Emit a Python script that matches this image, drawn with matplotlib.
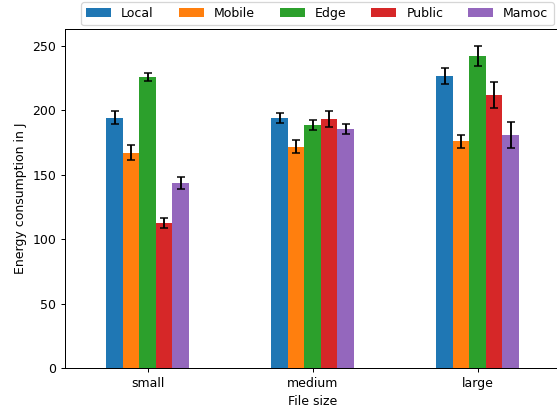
import matplotlib
matplotlib.use("Agg")
import matplotlib.pyplot as plt
import numpy as np

categories = ["small", "medium", "large"]
series = ["Local", "Mobile", "Edge", "Public", "Mamoc"]
local = [194, 194, 226.5]
mobile = [167, 171.5, 176]
edge = [225.5, 188.5, 242]
public = [112.5, 193, 211.5]
mamoc = [143.5, 185.5, 181]
local_err = [5, 4, 6]
mobile_err = [6, 5, 5]
edge_err = [3, 4, 8]
public_err = [4, 6, 10]
mamoc_err = [5, 4, 10]
colors = ["#1f77b4", "#ff7f0e", "#2ca02c", "#d62728", "#9467bd"]

values = [local, mobile, edge, public, mamoc]
errors = [local_err, mobile_err, edge_err, public_err, mamoc_err]

DPI = 90
fig = plt.figure(figsize=(557 / DPI, 411 / DPI), dpi=DPI)
ax = fig.add_axes([65/557, 43/411, 495/557, 339/411])

x = np.arange(len(categories))
width = 0.1
for i, (name, vals, errs, c) in enumerate(zip(series, values, errors, colors)):
    offset = (i - 2) * width
    ax.bar(x + offset, vals, width, yerr=errs, color=c, label=name,
           capsize=3, error_kw=dict(ecolor="black", elinewidth=1.5, capthick=1.2))

ax.set_xticks(x)
ax.set_xticklabels(categories, rotation=0)
ax.set_xlim(-0.5, 2.5)
ax.set_ylim(0, 263)
ax.set_xlabel("File size")
ax.set_ylabel("Energy consumption in J")

fig.legend(loc="upper left", bbox_to_anchor=(81/557, 1 - 2/411), ncol=5,
           borderaxespad=0)

fig.savefig("out.png", dpi=DPI)
